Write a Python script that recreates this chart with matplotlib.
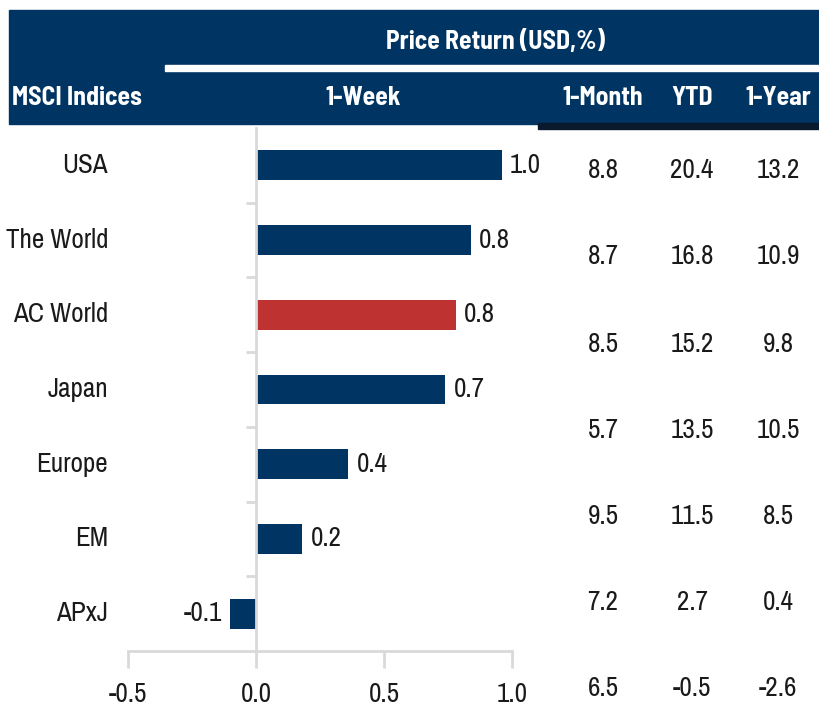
import matplotlib
matplotlib.use("Agg")
import matplotlib.pyplot as plt
from matplotlib.patches import Rectangle

BODY_FONT = ['Archivo Narrow', 'Liberation Sans', 'DejaVu Sans']
HEAD_FONT = ['Barlow Semi Condensed', 'Liberation Sans', 'DejaVu Sans']
plt.rcParams['font.family'] = BODY_FONT

# data
indices = ['USA', 'The World', 'AC World', 'Japan', 'Europe', 'EM', 'APxJ']
week = [0.96, 0.84, 0.78, 0.74, 0.36, 0.18, -0.10]
month = ['8.8', '8.7', '8.5', '5.7', '9.5', '7.2', '6.5']
ytd = ['20.4', '16.8', '15.2', '13.5', '11.5', '2.7', '-0.5']
year = ['13.2', '10.9', '9.8', '10.5', '8.5', '0.4', '-2.6']
table_cols = ['1-Month', 'YTD', '1-Year']
highlight = 'AC World'

NAVY = '#003462'
RED = '#BE3232'
GRAY = '#d9d9d9'
TXT = '#1a1a1a'
W, H = 819, 713
FS = 19.5

fig = plt.figure(figsize=(W / 100, H / 100), dpi=100)
fig.patch.set_facecolor('white')


def fx(px):
    return px / W


def fy(py):
    return 1 - py / H


# header band
fig.patches.append(Rectangle((fx(9), fy(124)), fx(W - 9), 114 / H,
                             transform=fig.transFigure, color=NAVY, zorder=0))
fig.patches.append(Rectangle((fx(538), fy(129)), fx(W - 538), 6 / H,
                             transform=fig.transFigure, color='#0a1a2e', zorder=0))
fig.patches.append(Rectangle((fx(165), fy(71)), fx(W - 165), 6 / H,
                             transform=fig.transFigure, color='white', zorder=1))

hdr = dict(color='white', fontsize=18.5, fontweight='bold', va='center', family=HEAD_FONT)
fig.text(fx(495), fy(42), 'Price Return (USD,%)', ha='center', **hdr)
fig.text(fx(12), fy(98), 'MSCI Indices', ha='left', **hdr)
fig.text(fx(363), fy(98), '1-Week', ha='center', **hdr)
col_x = [603, 692, 778]
for cx, name in zip(col_x, table_cols):
    fig.text(fx(cx), fy(98), name, ha='center', **hdr)

# bar chart
ax = fig.add_axes([fx(128), fy(651), fx(512 - 128), (651 - 128) / H])
pos = list(range(len(indices)))
colors = [RED if n == highlight else NAVY for n in indices]
ax.barh(pos, week, height=0.4, color=colors, zorder=2)
ax.set_xlim(-0.5, 1.0)
ax.set_ylim(len(indices) - 0.5, -0.5)

for p, v in zip(pos, week):
    ax.annotate(f'{v:.1f}', (v, p), xytext=(6 if v >= 0 else -6, 0),
                textcoords='offset points', ha='left' if v >= 0 else 'right',
                va='center', fontsize=FS, color=TXT)
    ax.annotate(indices[p], xy=(fx(108), p), xycoords=('figure fraction', 'data'),
                ha='right', va='center', fontsize=FS, color=TXT)

for s in ['top', 'right']:
    ax.spines[s].set_visible(False)
ax.spines['bottom'].set_color(GRAY)
ax.spines['bottom'].set_linewidth(2)
ax.spines['left'].set_position(('data', 0))
ax.spines['left'].set_color(GRAY)
ax.spines['left'].set_linewidth(2)
ax.set_xticks([-0.5, 0, 0.5, 1.0])
ax.set_xticklabels(['-0.5', '0.0', '0.5', '1.0'])
ax.tick_params(axis='x', direction='out', length=12, width=2, color=GRAY,
               labelsize=FS, labelcolor=TXT, pad=10)
ax.set_yticks([])
ax.set_yticks([p + 0.5 for p in pos[:-1]], minor=True)
ax.tick_params(axis='y', which='minor', direction='out', length=7, width=2, color=GRAY)

# table of other periods
row_y = [171, 257, 344, 430, 516, 603, 689]
for col, cx in zip([month, ytd, year], col_x):
    for ry, val in zip(row_y, col):
        fig.text(fx(cx), fy(ry), val, ha='center', va='center', fontsize=FS, color=TXT)

fig.savefig('out.png', dpi=100, facecolor='white')
